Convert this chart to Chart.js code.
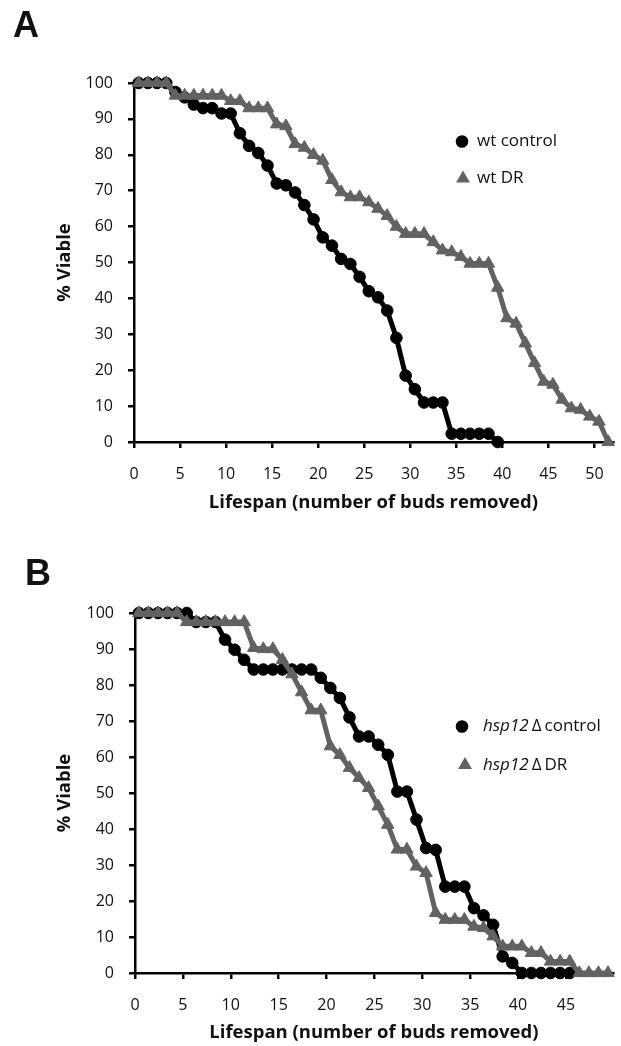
<!DOCTYPE html>
<html>
<head>
<meta charset="utf-8">
<script src="https://cdn.jsdelivr.net/npm/chart.js@4.4.1/dist/chart.umd.min.js"></script>
<style>
  body { margin: 0; background: #fff; }
  .panel { position: relative; width: 621px; height: 523px; }
  .panel canvas { display: block; }
  .letter { position: absolute; font: bold 36px "Liberation Sans", Arial, sans-serif; line-height: 1; color: #111; }
</style>
</head>
<body>
<div class="panel">
  <div class="letter" style="left:13px; top:7px">A</div>
  <canvas id="chartA" width="621" height="523"></canvas>
</div>
<div class="panel">
  <div class="letter" style="left:25px; top:32px">B</div>
  <canvas id="chartB" width="621" height="523"></canvas>
</div>

<script>
// ---- data (buds removed vs % viable) ----
const xTitle = 'Lifespan (number of buds removed)';
const yTitle = '% Viable';

// panel A: wild type
const budsWtControl = [0.5, 1.5, 2.5, 3.5, 4.5, 5.5, 6.5, 7.5, 8.5, 9.5, 10.5, 11.5, 12.5, 13.5, 14.5, 15.5, 16.5, 17.5, 18.5, 19.5,
  20.5, 21.5, 22.5, 23.5, 24.5, 25.5, 26.5, 27.5, 28.5, 29.5, 30.5, 31.5, 32.5, 33.5, 34.5, 35.5, 36.5, 37.5, 38.5, 39.5];
const viableWtControl = [100, 100, 100, 100, 97.5, 96, 94, 93, 93, 91.5, 91.5, 86, 82.5, 80.5, 77, 72, 71.5, 69.5, 66, 62,
  57, 54.7, 51, 49.6, 46, 42, 40.3, 36.6, 29, 18.5, 14.7, 11, 11, 11, 2.3, 2.3, 2.3, 2.3, 2.3, 0];

const budsWtDR = [0.5, 1.5, 2.5, 3.5, 4.5, 5.5, 6.5, 7.5, 8.5, 9.5, 10.5, 11.5, 12.5, 13.5, 14.5, 15.5, 16.5, 17.5, 18.5, 19.5,
  20.5, 21.5, 22.5, 23.5, 24.5, 25.5, 26.5, 27.5, 28.5, 29.5, 30.5, 31.5, 32.5, 33.5, 34.5, 35.5, 36.5, 37.5, 38.5, 39.5,
  40.5, 41.5, 42.5, 43.5, 44.5, 45.5, 46.5, 47.5, 48.5, 49.5, 50.5, 51.5];
const viableWtDR = [100, 100, 100, 100, 96.5, 96.5, 96.5, 96.5, 96.5, 96.5, 95, 95, 93, 93, 93, 88.5, 88, 83, 82, 80,
  78.4, 73, 69.6, 68.2, 68.2, 66.8, 65, 63, 60, 58, 58, 58, 55.7, 53.4, 52.9, 51.6, 49.7, 49.7, 49.7, 43,
  34.5, 33, 27.5, 22, 16.8, 16, 11.8, 9.4, 9, 7.1, 5.7, 0];

// panel B: hsp12 deletion
const budsHspControl = [0.4, 1.4, 2.4, 3.4, 4.4, 5.4, 6.4, 7.4, 8.4, 9.4, 10.4, 11.4, 12.4, 13.4, 14.4, 15.4, 16.4, 17.4, 18.4, 19.4,
  20.4, 21.4, 22.4, 23.4, 24.4, 25.4, 26.4, 27.4, 28.4, 29.4, 30.4, 31.4, 32.4, 33.4, 34.4, 35.4, 36.4, 37.4, 38.4, 39.4,
  40.4, 41.4, 42.4, 43.4, 44.4, 45.4];
const viableHspControl = [100, 100, 100, 100, 100, 100, 97.5, 97.5, 97.5, 92.6, 89.8, 87, 84.3, 84.3, 84.3, 84.3, 84.3, 84.3, 84.3, 82,
  79.2, 76.4, 71, 65.7, 65.7, 63.4, 60.6, 50.4, 50.4, 42.6, 34.7, 34.2, 24, 24, 24, 18, 16, 13.4, 4.6, 2.8,
  0, 0, 0, 0, 0, 0];

const budsHspDR = [0.4, 1.4, 2.4, 3.4, 4.4, 5.4, 6.4, 7.4, 8.4, 9.4, 10.4, 11.4, 12.4, 13.4, 14.4, 15.4, 16.4, 17.4, 18.4, 19.4,
  20.4, 21.4, 22.4, 23.4, 24.4, 25.4, 26.4, 27.4, 28.4, 29.4, 30.4, 31.4, 32.4, 33.4, 34.4, 35.4, 36.4, 37.4, 38.4, 39.4,
  40.4, 41.4, 42.4, 43.4, 44.4, 45.4, 46.4, 47.4, 48.4, 49.4];
const viableHspDR = [100, 100, 100, 100, 100, 97.5, 97.5, 97.5, 97.5, 97.5, 97.5, 97.5, 90.3, 90, 90, 87, 83, 78, 73, 73,
  63, 60.6, 57, 54.2, 51.4, 46.3, 41.2, 34.3, 34.3, 29.6, 27.8, 16.7, 14.8, 14.8, 14.8, 12.9, 12.5, 10.2, 7.4, 7.4,
  7.4, 5.6, 5.6, 3.2, 3.2, 3.2, 0, 0, 0, 0];

const legendA = [['wt control'], ['wt DR']];
const legendB = [['hsp12', 'Δ', 'control'], ['hsp12', 'Δ', 'DR']];

// ---- styling ----
const BLACK = '#000000';
const GRAY = '#626262';
const tickFont = { family: 'Open Sans', size: 16 };
const titleFont = { family: 'Open Sans', size: 18.5, weight: 'bold' };

function points(xs, ys) {
  return xs.map((x, i) => ({ x: x, y: ys[i] }));
}

// legend drawn beside the curves, like the original figure
const sideLegend = {
  id: 'sideLegend',
  afterDraw(chart, args, opts) {
    const ctx = chart.ctx;
    ctx.save();
    ctx.textBaseline = 'middle';
    opts.items.forEach(item => {
      ctx.fillStyle = item.color;
      ctx.beginPath();
      if (item.marker === 'circle') {
        ctx.arc(item.mx, item.my, 6.3, 0, Math.PI * 2);
      } else {
        const r = 8;
        ctx.moveTo(item.mx, item.my - r);
        ctx.lineTo(item.mx + r * 0.866, item.my + r / 2);
        ctx.lineTo(item.mx - r * 0.866, item.my + r / 2);
        ctx.closePath();
      }
      ctx.fill();
      ctx.fillStyle = '#111';
      let x = item.tx;
      item.parts.forEach((p, i) => {
        const italic = opts.italicFirst && i === 0;
        ctx.font = (italic ? 'italic ' : '') + '17px "Open Sans"';
        ctx.fillText(p, x, item.my);
        x += ctx.measureText(p).width + (opts.italicFirst ? 3 : 0);
      });
    });
    ctx.restore();
  }
};

function makeChart(id, sets, opt) {
  return new Chart(document.getElementById(id), {
    type: 'line',
    data: {
      datasets: [
        {
          data: points(sets[0][0], sets[0][1]),
          borderColor: BLACK, backgroundColor: BLACK,
          borderWidth: 5, pointStyle: 'circle', pointRadius: 5.8, pointBorderWidth: 1,
          tension: 0, clip: false, order: 1
        },
        {
          data: points(sets[1][0], sets[1][1]),
          borderColor: GRAY, backgroundColor: GRAY,
          borderWidth: 5, pointStyle: 'triangle', pointRadius: 7.2, pointBorderWidth: 1,
          tension: 0, clip: false, order: 0
        }
      ]
    },
    options: {
      responsive: false,
      animation: false,
      events: [],
      layout: { padding: { top: opt.top, left: 0, right: 0, bottom: 0 } },
      plugins: {
        legend: { display: false },
        tooltip: { enabled: false },
        sideLegend: opt.legend
      },
      scales: {
        x: {
          type: 'linear', min: 0, max: opt.xMax,
          ticks: { stepSize: 5, includeBounds: false, color: '#111', font: tickFont, padding: 17, maxRotation: 0 },
          grid: { drawOnChartArea: false, tickLength: 6, color: '#000', lineWidth: 2.5 },
          border: { color: '#000', width: 2.5 },
          title: { display: true, text: xTitle, color: '#111', font: titleFont, padding: { top: 0, bottom: opt.xTitlePad } },
          afterFit: s => { s.height = opt.xHeight; }
        },
        y: {
          min: 0, max: 100,
          ticks: { stepSize: 10, color: '#111', font: tickFont, padding: 15 },
          grid: { drawOnChartArea: false, tickLength: 6, color: '#000', lineWidth: 2.5 },
          border: { color: '#000', width: 2.5 },
          title: { display: true, text: yTitle, color: '#111', font: titleFont, padding: { top: 54, bottom: 0 } },
          afterFit: s => { s.width = opt.yWidth; }
        }
      }
    },
    plugins: [sideLegend]
  });
}

makeChart('chartA', [[budsWtControl, viableWtControl], [budsWtDR, viableWtDR]], {
  top: 83, xMax: 52, xHeight: 81, yWidth: 134, xTitlePad: 9,
  legend: {
    italicFirst: false,
    items: [
      { marker: 'circle', color: BLACK, mx: 462, my: 141.5, tx: 477, parts: legendA[0] },
      { marker: 'triangle', color: GRAY, mx: 463, my: 178.5, tx: 477, parts: legendA[1] }
    ]
  }
});

makeChart('chartB', [[budsHspControl, viableHspControl], [budsHspDR, viableHspDR]], {
  top: 90, xMax: 49.9, xHeight: 73, yWidth: 135, xTitlePad: 2,
  legend: {
    italicFirst: true,
    items: [
      { marker: 'circle', color: BLACK, mx: 462, my: 203.5, tx: 483, parts: legendB[0] },
      { marker: 'triangle', color: GRAY, mx: 465, my: 242, tx: 483, parts: legendB[1] }
    ]
  }
});
</script>
</body>
</html>
